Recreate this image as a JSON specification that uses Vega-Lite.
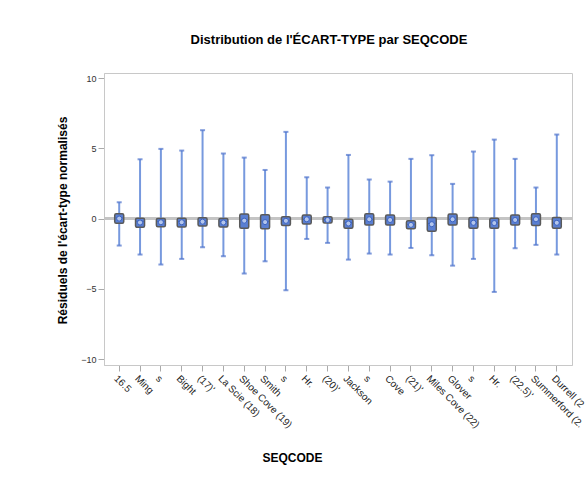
{
  "$schema": "https://vega.github.io/schema/vega-lite/v6.json",
  "width": 468,
  "height": 292,
  "autosize": "none",
  "padding": {"left": 104, "top": 73, "right": 14, "bottom": 120},
  "background": "white",
  "title": {
    "text": "Distribution de l'ÉCART-TYPE par SEQCODE",
    "font": "Liberation Sans",
    "fontSize": 13,
    "fontWeight": "bold",
    "color": "#000000",
    "anchor": "middle",
    "dx": -9,
    "offset": 26
  },
  "data": {
    "values": [
      {"seq": "16.5", "min": -1.92, "q1": -0.33, "median": 0.05, "q3": 0.35, "max": 1.16, "mean": 0.0},
      {"seq": "Ming", "min": -2.56, "q1": -0.62, "median": -0.2, "q3": 0.02, "max": 4.22, "mean": -0.28},
      {"seq": "s", "min": -3.27, "q1": -0.58, "median": -0.2, "q3": 0.0, "max": 4.96, "mean": -0.26},
      {"seq": "Bight", "min": -2.87, "q1": -0.6, "median": -0.2, "q3": 0.02, "max": 4.84, "mean": -0.26},
      {"seq": "(17)'", "min": -2.04, "q1": -0.52, "median": -0.18, "q3": 0.06, "max": 6.29, "mean": -0.22},
      {"seq": "La Scie (18)", "min": -2.68, "q1": -0.6, "median": -0.22, "q3": 0.0, "max": 4.63, "mean": -0.28},
      {"seq": "Shoe Cove (19)", "min": -3.91, "q1": -0.68, "median": -0.1, "q3": 0.32, "max": 4.34, "mean": -0.15},
      {"seq": "Smith", "min": -3.04, "q1": -0.72, "median": -0.2, "q3": 0.27, "max": 3.46, "mean": -0.25},
      {"seq": "s ", "min": -5.1, "q1": -0.5, "median": -0.15, "q3": 0.13, "max": 6.17, "mean": -0.16},
      {"seq": "Hr.", "min": -1.45, "q1": -0.38, "median": -0.05, "q3": 0.25, "max": 2.94, "mean": -0.05},
      {"seq": "(20)'", "min": -1.73, "q1": -0.32, "median": -0.08, "q3": 0.13, "max": 2.21, "mean": -0.1},
      {"seq": "Jackson", "min": -2.92, "q1": -0.68, "median": -0.3, "q3": -0.04, "max": 4.53, "mean": -0.35},
      {"seq": "s  ", "min": -2.49, "q1": -0.45, "median": -0.05, "q3": 0.35, "max": 2.78, "mean": -0.05},
      {"seq": "Cove", "min": -2.56, "q1": -0.45, "median": -0.1, "q3": 0.25, "max": 2.63, "mean": -0.1},
      {"seq": "(21)'", "min": -2.09, "q1": -0.72, "median": -0.42, "q3": -0.15, "max": 4.25, "mean": -0.45},
      {"seq": "Miles Cove (22)", "min": -2.61, "q1": -0.9, "median": -0.35, "q3": 0.08, "max": 4.51, "mean": -0.4},
      {"seq": "Glover", "min": -3.35, "q1": -0.45, "median": -0.05, "q3": 0.32, "max": 2.47, "mean": -0.05},
      {"seq": "s   ", "min": -2.87, "q1": -0.68, "median": -0.3, "q3": 0.08, "max": 4.77, "mean": -0.3},
      {"seq": "Hr. ", "min": -5.22, "q1": -0.68, "median": -0.3, "q3": 0.02, "max": 5.62, "mean": -0.32},
      {"seq": "(22.5)'", "min": -2.11, "q1": -0.45, "median": -0.1, "q3": 0.25, "max": 4.25, "mean": -0.1},
      {"seq": "Summerford (2.", "min": -1.87, "q1": -0.5, "median": -0.1, "q3": 0.35, "max": 2.21, "mean": -0.05},
      {"seq": "Durrell (2", "min": -2.56, "q1": -0.68, "median": -0.32, "q3": 0.08, "max": 5.98, "mean": -0.3}
    ]
  },
  "encoding": {
    "x": {
      "field": "seq",
      "type": "nominal",
      "sort": null,
      "scale": {"paddingInner": 0.5, "paddingOuter": 0.48},
      "axis": {
        "title": "SEQCODE",
        "titleFont": "Liberation Sans",
        "titleFontSize": 12,
        "titleFontWeight": "bold",
        "titleColor": "#000000",
        "titleX": 188,
        "titleY": 92,
        "titleBaseline": "middle",
        "labelAngle": 45,
        "labelAlign": "left",
        "labelBaseline": "top",
        "labelFont": "Liberation Sans",
        "labelFontSize": 10,
        "labelColor": "#222222",
        "labelPadding": 2,
        "labelLimit": 200,
        "tickSize": 6,
        "tickColor": "#aaaaaa",
        "domainColor": "#c8c8c8",
        "grid": false
      }
    }
  },
  "layer": [
    {
      "mark": {"type": "rule", "color": "#c4c4c4", "strokeWidth": 2},
      "encoding": {"y": {"datum": 0, "type": "quantitative"}, "x": null}
    },
    {
      "mark": {"type": "rule", "color": "#7799de", "strokeWidth": 2},
      "encoding": {
        "y": {
          "field": "min",
          "type": "quantitative",
          "scale": {"domain": [-10.42, 10.36], "nice": false, "zero": false},
          "axis": {
            "title": "Résiduels de l'écart-type normalisés",
            "titleFont": "Liberation Sans",
            "titleFontSize": 12,
            "titleFontWeight": "bold",
            "titleColor": "#000000",
            "titleX": -42,
            "titleY": 147,
            "titleBaseline": "middle",
            "titleAngle": -90,
            "values": [-10, -5, 0, 5, 10],
            "labelFont": "Liberation Sans",
            "labelFontSize": 9,
            "labelColor": "#333333",
            "labelPadding": 2,
            "tickSize": 6,
            "tickColor": "#aaaaaa",
            "domainColor": "#c8c8c8",
            "grid": false
          }
        },
        "y2": {"field": "max"}
      }
    },
    {
      "mark": {"type": "tick", "color": "#4d72cc", "thickness": 2, "size": 5},
      "encoding": {"y": {"field": "max", "type": "quantitative"}}
    },
    {
      "mark": {"type": "tick", "color": "#4d72cc", "thickness": 2, "size": 5},
      "encoding": {"y": {"field": "min", "type": "quantitative"}}
    },
    {
      "mark": {"type": "bar", "fill": "#5a7fd2", "stroke": "#5a5a5a", "strokeWidth": 1.5, "cornerRadius": 1.5, "width": 9},
      "encoding": {
        "y": {"field": "q1", "type": "quantitative"},
        "y2": {"field": "q3"}
      }
    },
    {
      "mark": {"type": "tick", "color": "#2d4f9e", "thickness": 1, "size": 7},
      "encoding": {"y": {"field": "median", "type": "quantitative"}}
    },
    {
      "mark": {"type": "point", "shape": "circle", "filled": true, "fill": "#b4c6ec", "stroke": "#3b63c2", "strokeWidth": 1, "size": 26, "opacity": 1},
      "encoding": {"y": {"field": "mean", "type": "quantitative"}}
    }
  ],
  "config": {
    "view": {"stroke": "#c8c8c8", "strokeWidth": 1},
    "font": "Liberation Sans"
  }
}
